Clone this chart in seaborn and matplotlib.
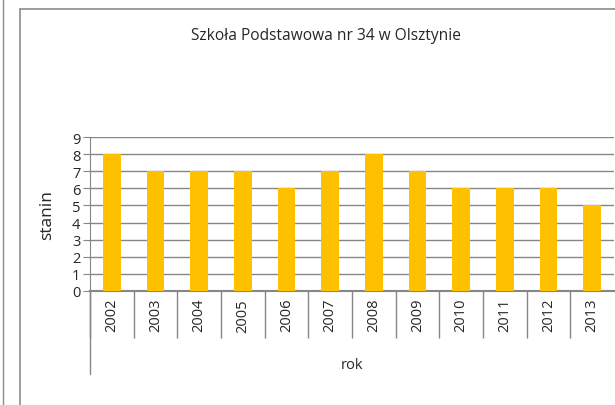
import numpy as np
import pandas as pd
import matplotlib
matplotlib.use("Agg")
import matplotlib.pyplot as plt
import seaborn as sns
from matplotlib.lines import Line2D

### Data
years = ["2002", "2003", "2004", "2005", "2006", "2007",
         "2008", "2009", "2010", "2011", "2012", "2013"]
stanin = [8, 7, 7, 7, 6, 7, 8, 7, 6, 6, 6, 5]
title = "Szkoła Podstawowa nr 34 w Olsztynie"
x_label = "rok"
y_label = "stanin"

sns.set_style("white")
plt.rcParams['font.family'] = ['Open Sans', 'DejaVu Sans']

df = pd.DataFrame({"rok": years, "stanin": stanin})

fig = plt.figure(figsize=(6.15, 4.06), dpi=100)
ax = fig.add_axes([90/615, 1 - 292/406, 524/615, 154/406])

sns.barplot(data=df, x="rok", y="stanin", color="#FFC000", width=0.4,
            saturation=1, linewidth=0, ax=ax, zorder=3)

ax.set_ylim(0, 9)
ax.set_xlim(-0.5, len(years) - 0.5)
ax.set_yticks(range(0, 10))
ax.yaxis.grid(True, color="#868686", linewidth=1.0, zorder=0)
ax.set_axisbelow(True)

for s in ["top", "right"]:
    ax.spines[s].set_visible(False)
ax.spines["left"].set_color("#868686")
ax.spines["bottom"].set_color("#868686")
ax.spines["bottom"].set_linewidth(1.5)

ax.tick_params(axis="y", length=5, color="#868686", labelsize=10.5, pad=2, left=True)
ax.tick_params(axis="x", which="major", length=0, labelsize=10.5, rotation=90, pad=5)
### Category separators below the axis
ax.set_xticks(np.arange(-0.5, len(years) - 0.5, 1), minor=True)
ax.tick_params(axis="x", which="minor", length=34, color="#868686", width=1.0, bottom=True)

ax.set_xlabel("")
ax.set_ylabel(y_label, fontsize=12.5, labelpad=12)
ax.text(0.5, -0.48, x_label, transform=ax.transAxes, ha="center", va="center", fontsize=10.5)
ax.add_line(Line2D([0, 0], [0, -83/154], transform=ax.transAxes, color="#868686",
                   linewidth=1.0, clip_on=False))

fig.text(326/615, 1 - 36/406, title, ha="center", va="center", fontsize=11.2)

### Outer frame lines
fig.add_artist(Line2D([3/615, 3/615], [0, 1], color="#8c8c8c", linewidth=1.0))
fig.add_artist(Line2D([20/615, 20/615], [0, 1 - 10/406], color="#8c8c8c", linewidth=1.2))
fig.add_artist(Line2D([20/615, 1], [1 - 10/406, 1 - 10/406], color="#8c8c8c", linewidth=1.2))

plt.savefig("out.png", dpi=100)
plt.close()
